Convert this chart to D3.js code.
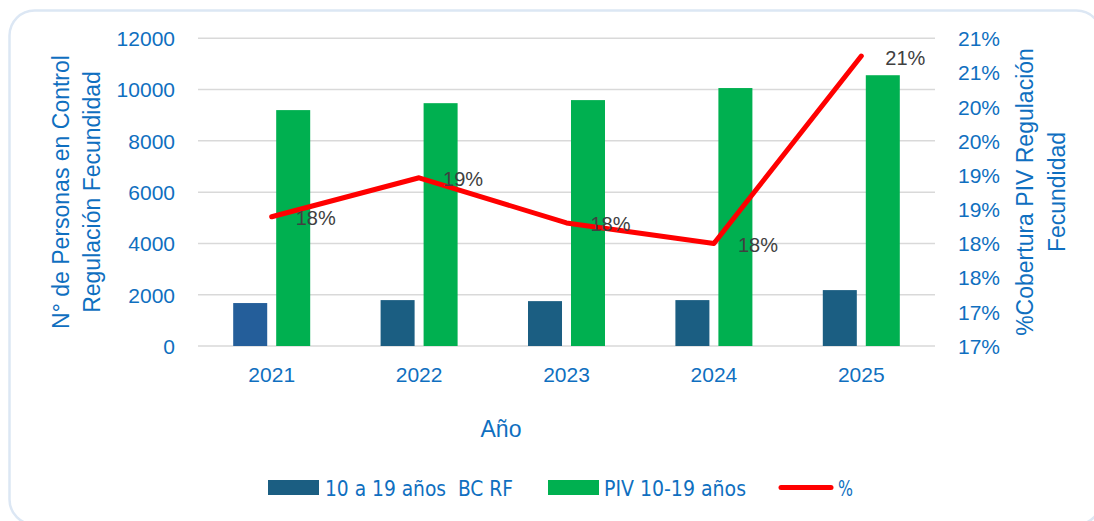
<!DOCTYPE html>
<html>
<head>
<meta charset="utf-8">
<script src="https://cdn.jsdelivr.net/npm/d3@7"></script>
<style>
  html, body { margin: 0; padding: 0; background: #ffffff; }
  svg { display: block; }
  text { font-family: "Liberation Sans", Arial, sans-serif; }
</style>
</head>
<body>
<svg id="chart" width="1094" height="521"></svg>
<script>
// Años y series
const years = ["2021", "2022", "2023", "2024", "2025"];
const bcRf = [1675, 1790, 1750, 1790, 2180];          // 10 a 19 años BC RF
const piv = [9200, 9470, 9590, 10060, 10560];          // PIV 10-19 años
const coverage = [0.1839, 0.1896, 0.1830, 0.1800, 0.2074]; // %
const coverageLabels = ["18%", "19%", "18%", "18%", "21%"];

// Ejes
const leftTicks = [0, 2000, 4000, 6000, 8000, 10000, 12000];
const rightTicks = [0.165, 0.17, 0.175, 0.18, 0.185, 0.19, 0.195, 0.20, 0.205, 0.21];
const rightTickLabels = ["17%", "17%", "18%", "18%", "19%", "19%", "20%", "20%", "21%", "21%"];

const seriesNames = ["10 a 19 años  BC RF", "PIV 10-19 años", "%"];
const barColors = ["#1B5E82", "#00B050"];
const firstBarColor = "#245E9A";
const lineColor = "#FF0000";
const textBlue = "#0F6FC0";

const svg = d3.select("#chart");

// Tarjeta de fondo
svg.append("rect")
  .attr("x", 9.5).attr("y", 10.5)
  .attr("width", 1092).attr("height", 514)
  .attr("rx", 25).attr("ry", 25)
  .attr("fill", "#ffffff")
  .attr("stroke", "#DCE7F4")
  .attr("stroke-width", 2.5);

const plot = { left: 198, right: 935, top: 38.3, bottom: 346 };

const x = d3.scaleBand().domain(years).range([plot.left, plot.right]).padding(0);
const xInner = d3.scaleBand().domain([0, 1]).range([-38.5, 38.5]).paddingInner(0.209);
const yLeft = d3.scaleLinear().domain([0, 12000]).range([plot.bottom, plot.top]);
const yRight = d3.scaleLinear().domain([0.165, 0.21]).range([plot.bottom, plot.top]);

// Líneas de cuadrícula
svg.append("g")
  .selectAll("line")
  .data(leftTicks)
  .join("line")
  .attr("x1", plot.left).attr("x2", plot.right)
  .attr("y1", d => yLeft(d)).attr("y2", d => yLeft(d))
  .attr("stroke", "#D9D9D9")
  .attr("stroke-width", 1.5);

// Eje izquierdo
const leftAxis = svg.append("g")
  .attr("transform", `translate(${175},0)`)
  .call(d3.axisLeft(yLeft).tickValues(leftTicks).tickSize(0).tickPadding(0).tickFormat(d3.format("d")));
leftAxis.select(".domain").remove();
leftAxis.selectAll("text")
  .attr("fill", textBlue)
  .style("font-size", "21px")
  .attr("dy", "0.35em");

// Eje derecho
const rightAxis = svg.append("g")
  .attr("transform", `translate(${958},0)`)
  .call(d3.axisRight(yRight).tickValues(rightTicks).tickSize(0).tickPadding(0)
    .tickFormat((d, i) => rightTickLabels[i]));
rightAxis.select(".domain").remove();
rightAxis.selectAll("text")
  .attr("fill", textBlue)
  .style("font-size", "21px")
  .attr("dy", "0.35em");

// Eje X
const bottomAxis = svg.append("g")
  .attr("transform", `translate(0,${plot.bottom})`)
  .call(d3.axisBottom(x).tickSize(0).tickPadding(0));
bottomAxis.select(".domain").remove();
bottomAxis.selectAll("text")
  .attr("fill", textBlue)
  .style("font-size", "21px")
  .attr("y", 36)
  .attr("dy", 0);

// Barras
const groups = svg.append("g")
  .selectAll("g")
  .data(years)
  .join("g")
  .attr("transform", d => `translate(${x(d) + x.bandwidth() / 2},0)`);

groups.append("rect")
  .attr("x", xInner(0))
  .attr("width", xInner.bandwidth())
  .attr("y", (d, i) => yLeft(bcRf[i]))
  .attr("height", (d, i) => yLeft(0) - yLeft(bcRf[i]))
  .attr("fill", (d, i) => i === 0 ? firstBarColor : barColors[0]);

groups.append("rect")
  .attr("x", xInner(1))
  .attr("width", xInner.bandwidth())
  .attr("y", (d, i) => yLeft(piv[i]))
  .attr("height", (d, i) => yLeft(0) - yLeft(piv[i]))
  .attr("fill", barColors[1]);

// Línea de cobertura
const line = d3.line()
  .x((d, i) => x(years[i]) + x.bandwidth() / 2)
  .y(d => yRight(d));

svg.append("path")
  .datum(coverage)
  .attr("d", line)
  .attr("fill", "none")
  .attr("stroke", lineColor)
  .attr("stroke-width", 5)
  .attr("stroke-linejoin", "round")
  .attr("stroke-linecap", "round");

// Etiquetas de datos
svg.append("g")
  .selectAll("text")
  .data(coverage)
  .join("text")
  .attr("x", (d, i) => x(years[i]) + x.bandwidth() / 2 + 24)
  .attr("y", d => yRight(d) + 8.5)
  .attr("fill", "#404040")
  .style("font-size", "20px")
  .text((d, i) => coverageLabels[i]);

// Títulos de ejes
const leftTitle = svg.append("text")
  .attr("transform", "translate(69,192) rotate(-90)")
  .attr("text-anchor", "middle")
  .attr("fill", textBlue)
  .style("font-size", "23px");
leftTitle.append("tspan").attr("x", 0).attr("dy", 0).text("N° de Personas en Control");
leftTitle.append("tspan").attr("x", 0).attr("dy", 31).text("Regulación Fecundidad");

const rightTitle = svg.append("text")
  .attr("transform", "translate(1033,192) rotate(-90)")
  .attr("text-anchor", "middle")
  .attr("fill", textBlue)
  .style("font-size", "23px");
rightTitle.append("tspan").attr("x", 0).attr("dy", 0).text("%Cobertura PIV Regulación");
rightTitle.append("tspan").attr("x", 0).attr("dy", 32).text("Fecundidad");

svg.append("text")
  .attr("x", 501).attr("y", 437)
  .attr("text-anchor", "middle")
  .attr("fill", textBlue)
  .style("font-size", "23px")
  .text("Año");

// Leyenda
const legend = svg.append("g").attr("transform", "translate(0,487.5)");
const legendItems = [
  { x: 268, type: "rect", color: barColors[0], textX: 325, width: 188 },
  { x: 548, type: "rect", color: barColors[1], textX: 604, width: 142 },
  { x: 779, type: "line", color: lineColor, textX: 838, width: 15 }
];
legendItems.forEach((item, i) => {
  if (item.type === "rect") {
    legend.append("rect")
      .attr("x", item.x).attr("y", -7.5)
      .attr("width", 51).attr("height", 15)
      .attr("fill", item.color);
  } else {
    legend.append("line")
      .attr("x1", item.x + 2).attr("x2", item.x + 52)
      .attr("y1", 0).attr("y2", 0)
      .attr("stroke", item.color)
      .attr("stroke-width", 5)
      .attr("stroke-linecap", "round");
  }
  legend.append("text")
    .attr("x", item.textX).attr("y", 8)
    .attr("fill", textBlue)
    .attr("textLength", item.width)
    .attr("lengthAdjust", "spacingAndGlyphs")
    .style("font-family", "'Liberation Sans Narrow', 'DejaVu Sans Condensed', Arial, sans-serif")
    .style("font-size", "22px")
    .style("white-space", "pre")
    .text(seriesNames[i]);
});
</script>
</body>
</html>
